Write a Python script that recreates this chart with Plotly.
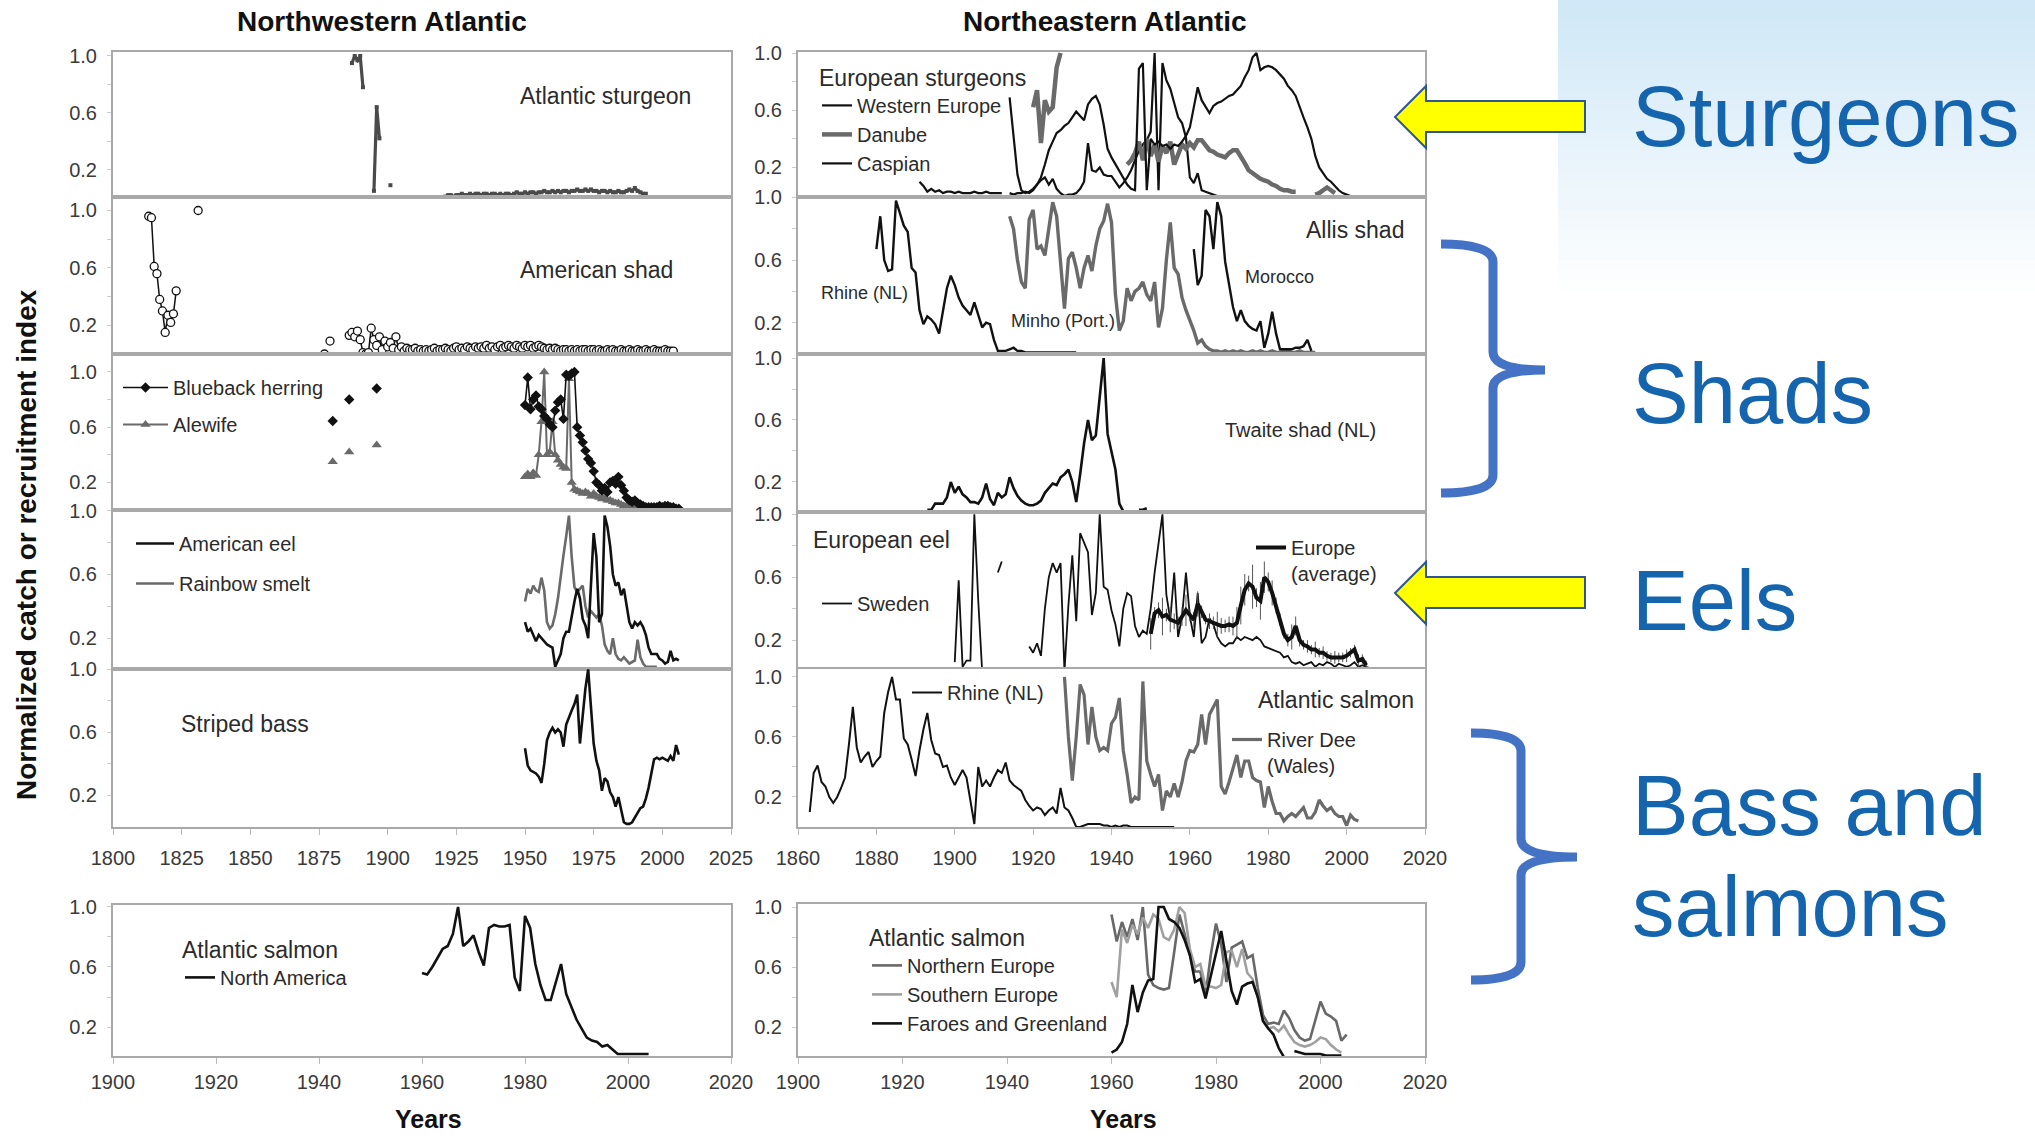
import plotly.graph_objects as go

W, H = 2035, 1139
FONT = "Liberation Sans, Arial, sans-serif"
TXT = "#2b2b2b"
BLACK = "#111111"

# ======================= DATA =======================
# ---- Northwestern Atlantic ----
nw_sturgeon_segments = [
    (1887, [0.95, 1.00, 0.97, 1.00, 0.78]),
    (1895, [0.05, 0.64, 0.42]),
    (1901, [0.09]),
    (1921, [0.01, 0.02, 0.02, 0.01, 0.02, 0.02, 0.03, 0.02, 0.02, 0.03,
            0.02, 0.03, 0.03, 0.02, 0.03, 0.03, 0.02, 0.03, 0.03, 0.02,
            0.03, 0.02, 0.03, 0.03, 0.02, 0.03, 0.04, 0.03, 0.03, 0.04,
            0.03, 0.04, 0.04, 0.03, 0.04, 0.04, 0.05, 0.04, 0.04, 0.05,
            0.04, 0.05, 0.04, 0.05, 0.05, 0.04, 0.05, 0.05, 0.06, 0.05,
            0.05, 0.06, 0.05, 0.06, 0.05, 0.05, 0.04, 0.05, 0.05, 0.04,
            0.05, 0.04, 0.04, 0.05, 0.04, 0.04, 0.05, 0.06, 0.05, 0.07,
            0.05, 0.04, 0.03, 0.03]),
]

nw_shad_segments = [
    (1813, [0.96, 0.95, 0.61, 0.56, 0.38, 0.30, 0.15, 0.27, 0.22, 0.28, 0.44]),
    (1831, [1.00]),
    (1877, [0.00]),
    (1879, [0.09]),
    (1886, [0.13, 0.15, 0.12, 0.16, 0.10, 0.01, 0.00, 0.01, 0.18, 0.10,
            0.06, 0.12, 0.03, 0.09, 0.05, 0.08, 0.04, 0.12, 0.03, 0.05,
            0.02, 0.04, 0.03, 0.03, 0.04, 0.02, 0.03, 0.02, 0.03, 0.02,
            0.03, 0.04, 0.02, 0.03, 0.03, 0.04, 0.03, 0.02, 0.04, 0.05,
            0.03, 0.04, 0.03, 0.05, 0.04, 0.03, 0.05, 0.04, 0.05, 0.04,
            0.06, 0.04, 0.05, 0.03, 0.05, 0.06, 0.04, 0.05, 0.06, 0.05,
            0.04, 0.06, 0.05, 0.04, 0.06, 0.05, 0.06, 0.04, 0.05, 0.06,
            0.05, 0.04, 0.03, 0.04, 0.03, 0.04, 0.03, 0.02, 0.03, 0.03,
            0.02, 0.03, 0.02, 0.03, 0.02, 0.03, 0.03, 0.02, 0.03, 0.03,
            0.02, 0.03, 0.02, 0.02, 0.03, 0.02, 0.03, 0.02, 0.02, 0.03,
            0.02, 0.02, 0.03, 0.02, 0.02, 0.03, 0.02, 0.02, 0.03, 0.02,
            0.02, 0.03, 0.02, 0.02, 0.02, 0.03, 0.02, 0.02, 0.02]),
]

blueback_segments = [
    (1880, [0.645]),
    (1886, [0.80]),
    (1896, [0.88]),
    (1950, [0.76, 0.96, 0.73, 0.80, 0.83, 0.75, 0.73, 0.68, 0.66, 0.62,
            0.60, 0.72, 0.78, 0.80, 0.66, 0.98, 0.97, 0.99, 1.00, 0.60,
            0.54, 0.49, 0.43, 0.37, 0.34, 0.28, 0.20, 0.18, 0.14, 0.16,
            0.13, 0.20, 0.21, 0.19, 0.24, 0.18, 0.14, 0.09, 0.07, 0.06,
            0.07, 0.05, 0.04, 0.03, 0.02, 0.02, 0.02, 0.02, 0.02, 0.03,
            0.02, 0.03, 0.03, 0.02, 0.02, 0.01, 0.01]),
]

alewife_segments = [
    (1880, [0.35]),
    (1886, [0.42]),
    (1896, [0.47]),
    (1950, [0.24, 0.26, 0.24, 0.27, 0.25, 0.40, 0.64, 1.00, 0.40, 0.42,
            0.64, 0.40, 0.36, 0.33, 0.31, 0.30, 0.95, 0.20, 0.15, 0.14,
            0.13, 0.12, 0.13, 0.12, 0.10, 0.12, 0.10, 0.09, 0.08, 0.09,
            0.07, 0.07, 0.06, 0.05, 0.05, 0.04, 0.03, 0.03, 0.02, 0.02,
            0.02, 0.01, 0.01, 0.01, 0.01, 0.01]),
]

american_eel_segments = [
    (1950, [0.30, 0.24, 0.26, 0.22, 0.18, 0.22, 0.20, 0.18, 0.16, 0.15,
            0.14, 0.02, 0.06, 0.10, 0.20, 0.24, 0.24, 0.35, 0.43, 0.51,
            0.45, 0.32, 0.28, 0.20, 0.55, 0.86, 0.71, 0.30, 0.35, 0.97,
            0.90, 0.78, 0.60, 0.53, 0.55, 0.47, 0.51, 0.40, 0.30, 0.26,
            0.30, 0.28, 0.30, 0.27, 0.22, 0.14, 0.10, 0.10, 0.10, 0.07,
            0.06, 0.04, 0.05, 0.12, 0.06, 0.07, 0.06]),
]

rainbow_smelt_segments = [
    (1950, [0.43, 0.51, 0.48, 0.53, 0.50, 0.49, 0.58, 0.50, 0.30, 0.26,
            0.28, 0.35, 0.45, 0.60, 0.72, 0.84, 0.97, 0.71, 0.52, 0.49,
            0.51, 0.53, 0.40, 0.33, 0.37, 0.35, 0.33, 0.35, 0.28, 0.16,
            0.12, 0.10, 0.20, 0.10, 0.07, 0.06, 0.08, 0.06, 0.04, 0.05,
            0.06, 0.19, 0.08, 0.04, 0.02, 0.02, 0.02, 0.02, 0.02]),
]

striped_bass_segments = [
    (1950, [0.50, 0.39, 0.36, 0.35, 0.34, 0.32, 0.28, 0.40, 0.55, 0.60,
            0.63, 0.60, 0.62, 0.60, 0.51, 0.65, 0.70, 0.74, 0.78, 0.84,
            0.53, 0.72, 0.88, 1.00, 0.74, 0.53, 0.42, 0.36, 0.23, 0.31,
            0.29, 0.22, 0.19, 0.13, 0.19, 0.10, 0.03, 0.02, 0.02, 0.03,
            0.06, 0.09, 0.12, 0.13, 0.18, 0.25, 0.35, 0.43, 0.44, 0.43,
            0.44, 0.43, 0.42, 0.45, 0.42, 0.52, 0.46]),
]

na_salmon_segments = [
    (1960, [0.56, 0.55, 0.60, 0.66, 0.72, 0.74, 0.82, 1.00, 0.74, 0.77,
            0.81, 0.70, 0.61, 0.86, 0.88, 0.87, 0.87, 0.88, 0.53, 0.44,
            0.94, 0.86, 0.62, 0.48, 0.38, 0.38, 0.50, 0.62, 0.42, 0.33,
            0.25, 0.19, 0.13, 0.11, 0.10, 0.07, 0.08, 0.05, 0.02, 0.02,
            0.02, 0.02, 0.02, 0.02, 0.02]),
]

# ---- Northeastern Atlantic ----
western_europe_segments = [
    (1891, [0.10, 0.07, 0.03, 0.05, 0.03, 0.04, 0.02, 0.03, 0.03, 0.02,
            0.03, 0.02, 0.02, 0.02, 0.03, 0.02, 0.02, 0.03, 0.02, 0.02,
            0.02, 0.02]),
    (1914, [0.02, 0.01, 0.02, 0.02, 0.03, 0.02, 0.04, 0.08, 0.11, 0.13,
            0.08, 0.12, 0.05, 0.02, 0.00, 0.01, 0.01, 0.02, 0.05, 0.10,
            0.37, 0.18, 0.17, 0.20, 0.15, 0.14, 0.14, 0.10, 0.06, 0.09,
            0.13, 0.18, 0.25, 0.32, 0.36, 0.39, 0.45, 1.00, 0.04, 0.93,
            0.81, 0.75, 0.65, 0.55, 0.51, 0.41, 0.13, 0.09, 0.16, 0.04,
            0.03, 0.02, 0.01, 0.00, 0.00]),
]

danube_segments = [
    (1920, [0.62, 0.74, 0.37, 0.67, 0.59, 0.62, 0.90, 1.00]),
    (1944, [0.22, 0.25, 0.30, 0.38, 0.25, 0.40, 0.28, 0.36, 0.24, 0.35,
            0.30, 0.38, 0.22, 0.30, 0.36, 0.33, 0.37, 0.34, 0.39, 0.39,
            0.36, 0.32, 0.31, 0.29, 0.28, 0.27, 0.30, 0.32, 0.32, 0.28,
            0.23, 0.18, 0.16, 0.14, 0.12, 0.11, 0.10, 0.08, 0.07, 0.05,
            0.04, 0.04, 0.03, 0.03]),
    (1992, [0.01, 0.02, 0.04, 0.06, 0.04, 0.02]),
]

caspian_segments = [
    (1914, [0.69, 0.40, 0.15, 0.04, 0.02, 0.03, 0.05, 0.08, 0.13, 0.22,
            0.32, 0.38, 0.44, 0.46, 0.49, 0.51, 0.55, 0.59, 0.56, 0.53,
            0.64, 0.68, 0.70, 0.64, 0.50, 0.33, 0.27, 0.22, 0.18, 0.12,
            0.08, 0.05, 0.04, 0.89, 0.93, 0.04, 0.40, 0.36, 0.38, 0.35,
            0.36, 0.33, 0.36, 0.35, 0.38, 0.42, 0.48, 0.62, 0.76, 0.67,
            0.62, 0.58, 0.63, 0.65, 0.66, 0.68, 0.70, 0.71, 0.74, 0.77,
            0.83, 0.88, 0.97, 1.00, 0.88, 0.90, 0.91, 0.90, 0.88, 0.85,
            0.82, 0.77, 0.74, 0.70, 0.62, 0.55, 0.48, 0.40, 0.28, 0.20,
            0.16, 0.12, 0.10, 0.07, 0.04, 0.02, 0.01, 0.00]),
]

allis_rhine_segments = [
    (1880, [0.67, 0.88, 0.60, 0.53, 0.54, 0.98, 0.90, 0.82, 0.78, 0.55,
            0.52, 0.28, 0.19, 0.24, 0.22, 0.19, 0.13, 0.29, 0.42, 0.50,
            0.44, 0.36, 0.31, 0.28, 0.25, 0.33, 0.25, 0.17, 0.20, 0.19,
            0.09, 0.02, 0.02, 0.02, 0.03, 0.04, 0.02, 0.02, 0.01, 0.01,
            0.01, 0.01, 0.01, 0.01, 0.01, 0.01, 0.01, 0.01, 0.01, 0.01,
            0.01, 0.01]),
]

allis_minho_segments = [
    (1914, [0.88, 0.80, 0.60, 0.46, 0.42, 0.86, 0.92, 0.67, 0.69, 0.63,
            0.80, 0.97, 0.88, 0.61, 0.29, 0.61, 0.65, 0.55, 0.42, 0.55,
            0.63, 0.53, 0.69, 0.80, 0.85, 0.96, 0.84, 0.38, 0.15, 0.21,
            0.42, 0.34, 0.40, 0.42, 0.46, 0.38, 0.34, 0.46, 0.17, 0.29,
            0.60, 0.84, 0.55, 0.51, 0.36, 0.28, 0.22, 0.15, 0.07, 0.09,
            0.05, 0.03, 0.02, 0.02, 0.01, 0.02, 0.01, 0.02, 0.01, 0.02,
            0.01, 0.01, 0.02, 0.01, 0.02, 0.01, 0.01, 0.02, 0.01, 0.01,
            0.02, 0.02, 0.01, 0.01, 0.02, 0.01, 0.01, 0.01, 0.01]),
]

allis_morocco_segments = [
    (1961, [0.67, 0.44, 0.50, 0.92, 0.88, 0.67, 0.97, 0.88, 0.59, 0.45,
            0.30, 0.21, 0.28, 0.21, 0.18, 0.16, 0.15, 0.21, 0.04, 0.13,
            0.27, 0.13, 0.03, 0.03, 0.03, 0.03, 0.04, 0.04, 0.05, 0.09,
            0.02]),
]

twaite_segments = [
    (1893, [0.02, 0.02, 0.06, 0.06, 0.06, 0.10, 0.20, 0.13, 0.17, 0.12,
            0.10, 0.07, 0.07, 0.06, 0.10, 0.19, 0.09, 0.05, 0.13, 0.10,
            0.12, 0.23, 0.16, 0.11, 0.08, 0.06, 0.05, 0.05, 0.06, 0.08,
            0.13, 0.16, 0.19, 0.18, 0.23, 0.25, 0.28, 0.20, 0.07, 0.25,
            0.45, 0.60, 0.47, 0.50, 0.75, 1.00, 0.51, 0.40, 0.28, 0.06,
            0.01, 0.00]),
    (1947, [0.02, 0.02, 0.03]),
]

sweden_eel_segments = [
    (1900, [0.06, 0.58, 0.03, 0.07, 0.07, 1.00, 0.45, 0.00]),
    (1911, [0.63, 0.70]),
    (1919, [0.16,
            0.12, 0.18, 0.10, 0.40, 0.60, 0.69, 0.63, 0.69, 0.00, 0.42,
            0.74, 0.32, 0.88, 0.82, 0.76, 0.36, 0.50, 1.00, 0.54, 0.52,
            0.39, 0.30, 0.16, 0.40, 0.50, 0.48, 0.29, 0.22, 0.26, 0.24,
            0.40, 0.63, 0.82, 1.00, 0.49, 0.33, 0.63, 0.22, 0.35, 0.63,
            0.35, 0.22, 0.50, 0.18, 0.22, 0.34, 0.30, 0.22, 0.18, 0.16,
            0.18, 0.18, 0.22, 0.20, 0.22, 0.21, 0.20, 0.22, 0.20, 0.16,
            0.15, 0.14, 0.13, 0.12, 0.09, 0.10, 0.06, 0.05, 0.06, 0.04,
            0.05, 0.06, 0.03, 0.05, 0.04, 0.06, 0.05, 0.03, 0.05, 0.04,
            0.03, 0.04, 0.06, 0.03, 0.04, 0.03, 0.02]),
]

europe_eel_start = 1950
europe_eel_avg = [0.24, 0.37, 0.39, 0.35, 0.36, 0.33, 0.32, 0.31, 0.35, 0.39,
                  0.36, 0.33, 0.43, 0.38, 0.33, 0.32, 0.31, 0.30, 0.29, 0.29,
                  0.30, 0.29, 0.31, 0.42, 0.52, 0.56, 0.54, 0.47, 0.45, 0.60,
                  0.57, 0.50, 0.42, 0.33, 0.24, 0.20, 0.22, 0.29, 0.20, 0.17,
                  0.16, 0.14, 0.14, 0.12, 0.12, 0.10, 0.09, 0.09, 0.09, 0.09,
                  0.10, 0.12, 0.14, 0.07, 0.08, 0.04]
europe_eel_spread = [0.10, 0.04, 0.05, 0.12, 0.04, 0.08, 0.05, 0.04, 0.06, 0.10,
                     0.04, 0.05, 0.08, 0.04, 0.03, 0.05, 0.04, 0.08, 0.05, 0.04,
                     0.05, 0.06, 0.10, 0.12, 0.10, 0.05, 0.14, 0.06, 0.12, 0.10,
                     0.06, 0.08, 0.05, 0.04, 0.03, 0.04, 0.08, 0.06, 0.04, 0.03,
                     0.04, 0.03, 0.05, 0.03, 0.04, 0.03, 0.03, 0.04, 0.03, 0.03,
                     0.04, 0.03, 0.03, 0.04, 0.03, 0.03]

rhine_salmon_segments = [
    (1863, [0.10, 0.36, 0.41, 0.30, 0.27, 0.20, 0.16, 0.20, 0.26, 0.33,
            0.55, 0.80, 0.53, 0.43, 0.47, 0.50, 0.40, 0.44, 0.47, 0.76,
            0.90, 1.00, 0.85, 0.85, 0.59, 0.55, 0.45, 0.34, 0.51, 0.65,
            0.76, 0.58, 0.49, 0.48, 0.40, 0.41, 0.33, 0.28, 0.33, 0.38,
            0.33, 0.18, 0.02, 0.40, 0.27, 0.31, 0.27, 0.33, 0.38, 0.36,
            0.43, 0.31, 0.28, 0.26, 0.24, 0.18, 0.14, 0.11, 0.13, 0.12,
            0.08, 0.11, 0.13, 0.09, 0.26, 0.13, 0.11, 0.06, 0.00, 0.00,
            0.01, 0.02, 0.02, 0.02, 0.02, 0.01, 0.01, 0.00, 0.01, 0.00,
            0.01, 0.01, 0.00, 0.00, 0.00, 0.00, 0.00, 0.00, 0.00, 0.00,
            0.00, 0.00, 0.00, 0.00]),
]

dee_salmon_segments = [
    (1928, [1.00, 0.60, 0.31, 0.60, 0.95, 0.88, 0.55, 0.80, 0.60, 0.51,
            0.53, 0.51, 0.69, 0.73, 0.86, 0.51, 0.35, 0.16, 0.20, 0.18,
            0.97, 0.44, 0.35, 0.27, 0.35, 0.11, 0.24, 0.20, 0.29, 0.20,
            0.30, 0.44, 0.51, 0.50, 0.55, 0.75, 0.55, 0.75, 0.80, 0.85,
            0.27, 0.22, 0.30, 0.40, 0.48, 0.33, 0.44, 0.44, 0.33, 0.31,
            0.30, 0.13, 0.27, 0.17, 0.09, 0.09, 0.04, 0.07, 0.09, 0.07,
            0.10, 0.13, 0.06, 0.06, 0.10, 0.18, 0.14, 0.11, 0.13, 0.09,
            0.07, 0.07, 0.01, 0.08, 0.05, 0.04]),
]

north_europe_segments = [
    (1960, [0.95, 0.77, 0.90, 0.80, 0.92, 0.78, 1.00, 0.55, 0.48, 0.46,
            0.45, 0.46, 0.70, 0.95, 0.82, 0.68, 0.57, 0.57, 0.41, 0.68,
            0.89, 0.75, 0.50, 0.73, 0.75, 0.77, 0.66, 0.68, 0.46, 0.28,
            0.22, 0.23, 0.22, 0.31, 0.26, 0.18, 0.13, 0.11, 0.12, 0.24,
            0.37, 0.29, 0.27, 0.24, 0.11, 0.15]),
]

south_europe_segments = [
    (1960, [0.50, 0.40, 0.85, 0.76, 0.88, 0.82, 0.93, 0.86, 0.95, 0.92,
            0.80, 0.78, 0.85, 1.00, 0.96, 0.72, 0.60, 0.62, 0.47, 0.47,
            0.46, 0.48, 0.70, 0.71, 0.60, 0.72, 0.56, 0.52, 0.40, 0.24,
            0.19, 0.20, 0.17, 0.21, 0.15, 0.10, 0.08, 0.07, 0.08, 0.10,
            0.13, 0.12, 0.08, 0.05, 0.03]),
]

faroes_segments = [
    (1960, [0.03, 0.05, 0.10, 0.22, 0.48, 0.30, 0.43, 0.51, 0.52, 1.00,
            1.00, 0.92, 0.90, 0.86, 0.78, 0.68, 0.50, 0.52, 0.39, 0.54,
            0.71, 0.84, 0.64, 0.44, 0.35, 0.47, 0.49, 0.50, 0.40, 0.24,
            0.19, 0.15, 0.06, 0.00]),
    (1995, [0.04, 0.03, 0.02, 0.02, 0.02, 0.02, 0.01, 0.01, 0.01, 0.01]),
]

# tick labels
nw_stack_years = [1800, 1825, 1850, 1875, 1900, 1925, 1950, 1975, 2000, 2025]
ne_stack_years = [1860, 1880, 1900, 1920, 1940, 1960, 1980, 2000, 2020]
salmon_years = [1900, 1920, 1940, 1960, 1980, 2000, 2020]
y_tick_vals = [0.2, 0.4, 0.6, 0.8, 1.0]
y_tick_text = ["0.2", "", "0.6", "", "1.0"]


def build(segments):
    xs, ys = [], []
    for start, vals in segments:
        xs.extend(range(start, start + len(vals)))
        ys.extend(vals)
        xs.append(None)
        ys.append(None)
    return xs, ys


# ======================= LAYOUT GEOMETRY (pixels) =======================
panels = [
    # key, x-px, y-px, x-range, y-range, x tick vals, x label standoff (None = hidden)
    ("L1", (113, 731), (52, 197), (1800, 2025), (0.007, 1.028), nw_stack_years, None),
    ("L2", (113, 731), (197, 354), (1800, 2025), (0.0, 1.094), nw_stack_years, None),
    ("L3", (113, 731), (354, 510), (1800, 2025), (0.0, 1.13), nw_stack_years, None),
    ("L4", (113, 731), (510, 669), (1800, 2025), (0.006, 1.005), nw_stack_years, None),
    ("L5", (113, 731), (669, 827), (1800, 2025), (0.0, 1.003), nw_stack_years, 6),
    ("LB", (113, 731), (905, 1056), (1900, 2020), (0.007, 1.013), salmon_years, 1),
    ("R1", (798, 1425), (52, 197), (1860, 2020), (-0.007, 1.007), ne_stack_years, None),
    ("R2", (798, 1425), (197, 354), (1860, 2020), (0.0, 1.003), ne_stack_years, None),
    ("R3", (798, 1425), (354, 512), (1860, 2020), (0.006, 1.026), ne_stack_years, None),
    ("R4", (798, 1425), (512, 670), (1860, 2020), (0.01, 1.015), ne_stack_years, None),
    ("R5", (798, 1425), (669, 827), (1860, 2020), (0.0, 1.053), ne_stack_years, 6),
    ("RB", (798, 1425), (904, 1056), (1900, 2020), (0.007, 1.02), salmon_years, 1),
]
axis_of = {}
layout_axes = {}
for i, (key, xp, yp, xr, yr, xt, standoff) in enumerate(panels, start=1):
    sfx = "" if i == 1 else str(i)
    showx = standoff is not None
    axis_of[key] = ("x" + sfx, "y" + sfx)
    layout_axes["xaxis" + sfx] = dict(
        domain=[xp[0] / W, xp[1] / W], range=list(xr), anchor="y" + sfx,
        showline=True, mirror=True, linecolor="#a9a9a9", linewidth=2,
        showgrid=False, zeroline=False, tickvals=xt, automargin=False,
        ticks="outside" if showx else "", ticklen=6, tickcolor="#bbbbbb",
        showticklabels=showx, ticklabelstandoff=standoff if showx else 0,
        tickfont=dict(family=FONT, size=20, color="#3a3a3a"), fixedrange=True)
    layout_axes["yaxis" + sfx] = dict(
        domain=[1 - yp[1] / H, 1 - yp[0] / H], range=list(yr), anchor="x" + sfx,
        showline=True, mirror=True, linecolor="#a9a9a9", linewidth=2,
        showgrid=False, zeroline=False, tickvals=y_tick_vals, ticktext=y_tick_text,
        ticks="outside", ticklen=4, tickcolor="#cccccc", ticklabelstandoff=6,
        automargin=False,
        tickfont=dict(family=FONT, size=20, color="#3a3a3a"), fixedrange=True)

fig = go.Figure()


def add(key, segments, name, color, width, legend=None, mode="lines",
        marker=None, group=None, **kw):
    xs, ys = build(segments)
    xa, ya = axis_of[key]
    tr = dict(x=xs, y=ys, mode=mode, name=name, xaxis=xa, yaxis=ya,
              line=dict(color=color, width=width), hoverinfo="skip",
              showlegend=bool(legend))
    if legend:
        tr["legend"] = legend
    if group:
        tr["legendgroup"] = group
    if marker:
        tr["marker"] = marker
    tr.update(kw)
    fig.add_trace(go.Scatter(**tr))


# NW
add("L1", nw_sturgeon_segments, "Atlantic sturgeon", "#4a4a4a", 3.2, mode="lines+markers",
    marker=dict(size=4, color="#4a4a4a", symbol="square"))
add("L2", nw_shad_segments, "American shad", BLACK, 1.5, mode="lines+markers",
    marker=dict(size=8, color="white", symbol="circle", line=dict(color=BLACK, width=1.3)))
add("L3", alewife_segments, "Alewife", "#6a6a6a", 2, legend="legend", group="a", legendrank=2,
    mode="lines+markers", marker=dict(size=9, color="#6a6a6a", symbol="triangle-up"))
add("L3", blueback_segments, "Blueback herring", BLACK, 1.6, legend="legend", group="b", legendrank=1,
    mode="lines+markers", marker=dict(size=8, color=BLACK, symbol="diamond"))
add("L4", rainbow_smelt_segments, "Rainbow smelt", "#6a6a6a", 2.6, legend="legend2", group="s",
    legendrank=2)
add("L4", american_eel_segments, "American eel", BLACK, 2.6, legend="legend2", group="e",
    legendrank=1)
add("L5", striped_bass_segments, "Striped bass", BLACK, 2.6)
add("LB", na_salmon_segments, "North America", BLACK, 2.6, legend="legend3")

# NE
add("R1", western_europe_segments, "Western Europe", BLACK, 2.2, legend="legend4")
add("R1", danube_segments, "Danube", "#6a6a6a", 4.5, legend="legend4")
add("R1", caspian_segments, "Caspian", BLACK, 2.2, legend="legend4")
add("R2", allis_minho_segments, "Minho (Port.)", "#6a6a6a", 3.4)
add("R2", allis_rhine_segments, "Rhine (NL)", BLACK, 2.4)
add("R2", allis_morocco_segments, "Morocco", BLACK, 2.4)
add("R3", twaite_segments, "Twaite shad (NL)", BLACK, 2.6)
add("R4", sweden_eel_segments, "Sweden", BLACK, 1.8, legend="legend5")
fig.add_trace(go.Scatter(
    x=list(range(europe_eel_start, europe_eel_start + len(europe_eel_avg))), y=europe_eel_avg,
    mode="lines", name="Europe<br>(average)", xaxis=axis_of["R4"][0], yaxis=axis_of["R4"][1],
    line=dict(color=BLACK, width=4), legend="legend6", hoverinfo="skip",
    error_y=dict(type="data", array=europe_eel_spread, thickness=1, width=0, color="#555555")))
add("R5", dee_salmon_segments, "River Dee<br>(Wales)", "#6a6a6a", 3.2, legend="legend8")
add("R5", rhine_salmon_segments, "Rhine (NL)", BLACK, 2.0, legend="legend7")
add("RB", north_europe_segments, "Northern Europe", "#686868", 2.6, legend="legend9")
add("RB", south_europe_segments, "Southern Europe", "#a0a0a0", 2.6, legend="legend9")
add("RB", faroes_segments, "Faroes and Greenland", BLACK, 2.6, legend="legend9")


def leg(x_px, top_px, size=20, title=None, itemwidth=30, gap=0, order="normal", valign="middle"):
    d = dict(x=x_px / W, y=1 - top_px / H, xanchor="left", yanchor="top",
             bgcolor="rgba(0,0,0,0)", borderwidth=0, orientation="v",
             font=dict(family=FONT, size=size, color=TXT), itemwidth=itemwidth,
             tracegroupgap=gap, traceorder=order, valign=valign)
    if title:
        d["title"] = dict(text=title, font=dict(family=FONT, size=23, color=TXT))
    return d


legends = dict(
    legend=leg(118, 368, itemwidth=45, gap=8, order="grouped"),
    legend2=leg(131, 524, itemwidth=38, gap=11, order="grouped"),
    legend3=leg(180, 928, title="Atlantic salmon"),
    legend4=leg(817, 56, title="European sturgeons"),
    legend5=leg(817, 584),
    legend6=leg(1251, 528, valign="top"),
    legend7=leg(907, 673),
    legend8=leg(1227, 720, valign="top"),
    legend9=leg(867, 916, title="Atlantic salmon"),
)

annotations = []


def text(s, x, y, size, xanchor="center", bold=False, color=TXT, angle=0):
    annotations.append(dict(
        text=f"<b>{s}</b>" if bold else s, x=x / W, y=1 - y / H, xref="paper", yref="paper",
        xanchor=xanchor, yanchor="middle", showarrow=False, textangle=angle,
        font=dict(family=FONT, size=size, color=color)))


text("Northwestern Atlantic", 382, 22, 28, bold=True, color="#111")
text("Northeastern Atlantic", 1105, 22, 28, bold=True, color="#111")
text("Normalized catch or recruitment index", 26, 545, 28, bold=True, color="#111", angle=-90)
text("Years", 428, 1119, 25, bold=True, color="#111")
text("Years", 1123, 1119, 25, bold=True, color="#111")
text("Atlantic sturgeon", 605, 96, 23)
text("American shad", 596, 270, 23)
text("Striped bass", 245, 724, 23)
text("Allis shad", 1355, 230, 23)
text("Rhine (NL)", 864, 293, 18)
text("Minho (Port.)", 1063, 321, 18)
text("Morocco", 1279, 277, 18)
text("Twaite shad (NL)", 1300, 430, 20)
text("European eel", 881, 540, 23)
text("Atlantic salmon", 1336, 700, 23)

BLUE_TXT = "#1464ae"
text("Sturgeons", 1630, 117, 85, xanchor="left", color=BLUE_TXT)
text("Shads", 1630, 393, 85, xanchor="left", color=BLUE_TXT)
text("Eels", 1630, 600, 85, xanchor="left", color=BLUE_TXT)
text("Bass and", 1630, 805, 85, xanchor="left", color=BLUE_TXT)
text("salmons", 1630, 906, 85, xanchor="left", color=BLUE_TXT)

shapes = []
# light blue gradient band at top right
n_bands = 30
for k in range(n_bands):
    t = k / (n_bands - 1)
    r = int(208 + (255 - 208) * t)
    g = int(232 + (255 - 232) * t)
    b = int(247 + (255 - 247) * t)
    shapes.append(dict(type="rect", xref="paper", yref="paper", layer="below",
                       x0=1558 / W, x1=1.0, y0=1 - (k + 1) * 10 / H, y1=1 - k * 10 / H,
                       fillcolor=f"rgb({r},{g},{b})", line=dict(width=0)))


def P(x, y):
    return f"{x / W:.5f},{1 - y / H:.5f}"


def arrow(cy):
    pts = [(1395, cy), (1426, cy - 31), (1426, cy - 16), (1585, cy - 16),
           (1585, cy + 15), (1426, cy + 15), (1426, cy + 31)]
    path = "M " + " L ".join(P(x, y) for x, y in pts) + " Z"
    shapes.append(dict(type="path", xref="paper", yref="paper", path=path,
                       fillcolor="#ffff00", line=dict(color="#2f5597", width=2)))


arrow(117)
arrow(593)


def brace(xe, xb, xt, yt, ym, yb):
    r = 18
    path = (f"M {P(xe, yt)} Q {P(xb, yt)} {P(xb, yt + r)} L {P(xb, ym - r)} "
            f"Q {P(xb, ym)} {P(xt, ym)} Q {P(xb, ym)} {P(xb, ym + r)} "
            f"L {P(xb, yb - r)} Q {P(xb, yb)} {P(xe, yb)}")
    shapes.append(dict(type="path", xref="paper", yref="paper", path=path,
                       line=dict(color="#4472c4", width=9)))


brace(1441, 1493, 1545, 244, 370, 493)
brace(1471, 1521, 1577, 733, 857, 980)

fig.update_layout(
    width=W, height=H, autosize=False,
    margin=dict(l=0, r=0, t=0, b=0, pad=0, autoexpand=False),
    paper_bgcolor="white", plot_bgcolor="white",
    font=dict(family=FONT, color=TXT),
    showlegend=True,
    annotations=annotations, shapes=shapes,
    **layout_axes, **legends)

fig.write_html("out.html")
